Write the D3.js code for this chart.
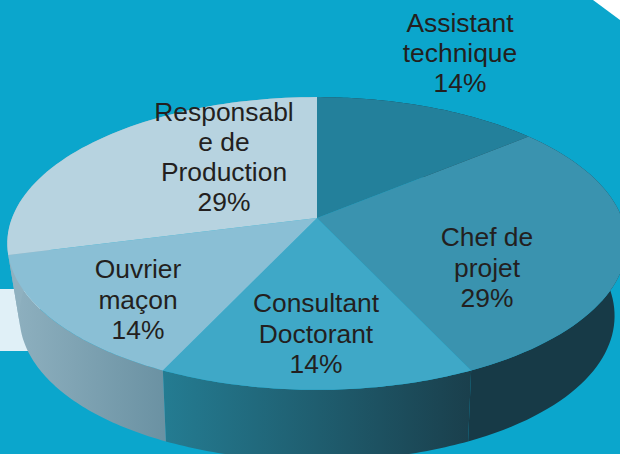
<!DOCTYPE html>
<html>
<head>
<meta charset="utf-8">
<title>pie 3d</title>
<style>
  html, body { margin: 0; padding: 0; background: #fff; }
  svg { display: block; }
  text { font-family: "Liberation Sans", Arial, sans-serif; font-size: 26.4px; fill: #231f20; text-anchor: middle; }
</style>
</head>
<body>
<svg width="620" height="454"></svg>
<script src="https://d3js.org/d3.v7.min.js"></script>
<script>

    // values, clockwise from 12 o'clock
    var categories = ["Assistant technique", "Chef de projet", "Consultant Doctorant", "Ouvrier maçon", "Responsable de Production"];
    var values = [14, 29, 14, 14, 29];
    var labelLines = [
        ["Assistant", "technique", "14%"],
        ["Chef de", "projet", "29%"],
        ["Consultant", "Doctorant", "14%"],
        ["Ouvrier", "maçon", "14%"],
        ["Responsabl", "e de", "Production", "29%"]
    ];

    // styles
    var topColors = ["#23809b", "#3a93af", "#3fa8c7", "#8abfd5", "#b7d3e0"];
    var sideStops = [
        ["#173a47", "#173a47"],
        ["#173a47", "#173a47"],
        ["#247c92", "#1a3f4c"],
        ["#8fb1c0", "#6b92a3"],
        ["#8fb1c0", "#8fb1c0"]
    ];

    // layout of the labels (centre x, first baseline, line height)
    var labelPos = [
        [460, 32, 30],
        [487, 246, 30.5],
        [316, 312, 30.5],
        [138, 278, 30.5],
        [224, 121, 30]
    ];

    var svg = d3.select("svg"),
        cx = 317,
        radius = 305,
        persp = -0.174,   // front of the disc comes closer
        depth = 71;       // height of the slab

    var yDisc = d3.scaleLinear().domain([-1, 1]).range([218 - 104, 218 + 104]);

    // angle on the disc -> screen, 0 is the back of the pie
    function project(a, lower) {
        var u = Math.sin(a), v = -Math.cos(a), w = 1 + persp * v;
        var x = cx + radius * u / w,
            y = yDisc(v) / w;
        if (lower) {
            // bottom rim is narrower, more so at the far left and right
            x = cx + (x - cx) * (0.985 - 0.025 * u * u);
            y = y + depth;
        }
        return [x, y];
    }

    function arcPoints(s, lower) {
        var n = 60;
        return d3.range(n + 1).map(function (i) {
            return project(s.startAngle + (s.endAngle - s.startAngle) * i / n, lower);
        });
    }

    var line = d3.line();
    var pie = d3.pie().sort(null).startAngle(0).endAngle(2 * Math.PI);
    var slices = pie(values);

    // backdrop
    svg.append("rect").attr("width", 620).attr("height", 454).attr("fill", "#0ba6cc");
    svg.append("path").attr("d", "M593,0L620,20V0Z").attr("fill", "#fff");
    svg.append("rect").attr("x", 0).attr("y", 289).attr("width", 40).attr("height", 62).attr("fill", "#e0f0f7");

    var defs = svg.append("defs");

    slices.forEach(function (s, i) {
        var pts = arcPoints(s, true).concat(arcPoints(s, false).reverse());
        var xs = d3.extent(arcPoints(s, false), function (p) { return p[0]; });
        var grad = defs.append("linearGradient")
            .attr("id", "side" + i)
            .attr("gradientUnits", "userSpaceOnUse")
            .attr("x1", xs[0]).attr("x2", xs[1])
            .attr("y1", 0).attr("y2", 0);
        grad.append("stop").attr("offset", 0).attr("stop-color", sideStops[i][0]);
        grad.append("stop").attr("offset", 1).attr("stop-color", sideStops[i][1]);
        svg.append("path")
            .attr("d", line(pts) + "Z")
            .attr("fill", "url(#side" + i + ")");
    });

    var apex = [cx, yDisc(0)];
    svg.selectAll("path.top")
        .data(slices)
        .enter().append("path")
        .attr("class", "top")
        .attr("fill", function (d, i) { return topColors[i]; })
        .attr("d", function (d) { return line([apex].concat(arcPoints(d, false))) + "Z"; });

    labelLines.forEach(function (lines, i) {
        var t = svg.append("text").attr("aria-label", categories[i]);
        lines.forEach(function (l, j) {
            t.append("tspan")
                .attr("x", labelPos[i][0])
                .attr("y", labelPos[i][1] + j * labelPos[i][2])
                .text(l);
        });
    });

</script>
</body>
</html>
